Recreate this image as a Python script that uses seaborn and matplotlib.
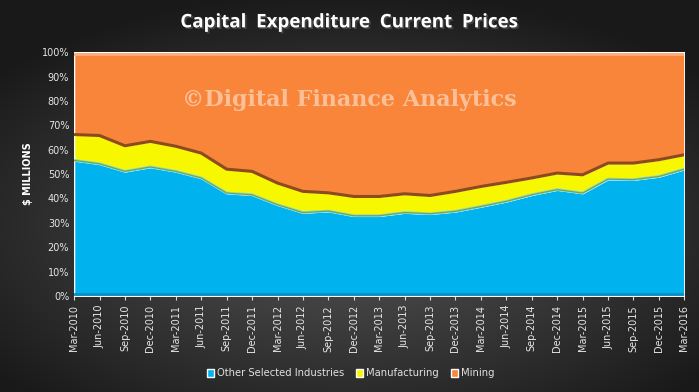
#!/usr/bin/env python3
import numpy as np
import pandas as pd
import matplotlib.pyplot as plt
import matplotlib.patheffects as pe
import seaborn as sns

# quarterly share of capital expenditure (%)
quarters = [
    "Mar-2010", "Jun-2010", "Sep-2010", "Dec-2010", "Mar-2011", "Jun-2011",
    "Sep-2011", "Dec-2011", "Mar-2012", "Jun-2012", "Sep-2012", "Dec-2012",
    "Mar-2013", "Jun-2013", "Sep-2013", "Dec-2013", "Mar-2014", "Jun-2014",
    "Sep-2014", "Dec-2014", "Mar-2015", "Jun-2015", "Sep-2015", "Dec-2015",
    "Mar-2016",
]
other = [55.6, 54.2, 51.1, 52.9, 51.1, 48.4, 42.2, 41.5, 37.4, 34.2, 34.8, 32.9,
         32.9, 34.2, 33.7, 34.7, 36.7, 38.8, 41.5, 43.6, 42.2, 47.9, 47.7, 49.0, 52.0]
manufacturing = [10.6, 11.6, 10.5, 10.5, 10.3, 10.2, 9.8, 9.6, 8.9, 8.7, 7.5, 7.9,
                 7.9, 7.7, 7.5, 8.2, 8.2, 7.8, 6.9, 6.8, 7.5, 6.6, 6.8, 6.9, 5.9]
mining = [33.8, 34.2, 38.4, 36.6, 38.6, 41.4, 48.0, 48.9, 53.7, 57.1, 57.7, 59.2,
          59.2, 58.1, 58.8, 57.1, 55.1, 53.4, 51.6, 49.6, 50.3, 45.5, 45.5, 44.1, 42.1]
series_names = ["Other Selected Industries", "Manufacturing", "Mining"]

colors = {"Other Selected Industries": "#00B3EF",
          "Manufacturing": "#F7F700",
          "Mining": "#F8853A"}

df = pd.DataFrame({"quarter": quarters, "x": range(len(quarters)),
                   "Other Selected Industries": other,
                   "Manufacturing": manufacturing, "Mining": mining})
df["blue_top"] = df["Other Selected Industries"]
df["yellow_top"] = df["blue_top"] + df["Manufacturing"]

sns.set_style("dark")
plt.rcParams["font.family"] = ["DejaVu Sans"]

fig = plt.figure(figsize=(6.99, 3.92), dpi=100)

# dark radial background
bg = fig.add_axes([0, 0, 1, 1], zorder=-5)
gx, gy = np.meshgrid(np.linspace(-1, 1, 400), np.linspace(-1, 1, 240))
r = np.sqrt((gx / 1.1) ** 2 + ((gy + 0.15) / 1.0) ** 2)
shade = np.clip(0.34 - 0.2 * r, 0.1, 0.34)
bg.imshow(np.dstack([shade] * 3), extent=[0, 1, 0, 1], aspect="auto", origin="lower")
bg.axis("off")

ax = fig.add_axes([0.106, 0.245, 0.873, 0.622])
ax.set_facecolor("none")

ax.stackplot(df["x"], df["Other Selected Industries"], df["Manufacturing"], df["Mining"],
             colors=[colors[n] for n in series_names], labels=series_names, zorder=2)

# bevel-like boundary lines
sns.lineplot(data=df, x="x", y="yellow_top", color="#8C4A1E", linewidth=2.2, ax=ax,
             zorder=3, legend=False)
sns.lineplot(data=df, x="x", y="blue_top", color="#63E0FF", linewidth=2.0, ax=ax,
             zorder=3, legend=False)
sns.lineplot(data=df, x="x", y="blue_top", color="#9A9A10", linewidth=0.8, ax=ax,
             zorder=4, legend=False)
ax.axhline(99.2, color="#FBB07C", linewidth=2, zorder=3)
ax.axhline(0.6, color="#0A8FC4", linewidth=2, zorder=3)

ax.set_xlim(0, len(quarters) - 1)
ax.set_ylim(0, 100)
ax.set_yticks(range(0, 101, 10))
ax.set_yticklabels([f"{v}%" for v in range(0, 101, 10)])
ax.set_xticks(df["x"])
ax.set_xticklabels(quarters, rotation=90)
ax.tick_params(axis="x", colors="#D9D9D9", labelsize=7, length=3, direction="out",
               bottom=True, width=0.8)
ax.tick_params(axis="y", colors="#D9D9D9", labelsize=7, length=0)
for lab in ax.get_xticklabels() + ax.get_yticklabels():
    lab.set_color("#E6E6E6")
ax.grid(False)
for s in ax.spines.values():
    s.set_visible(False)
ax.set_xlabel("")
ax.set_ylabel("$ MILLIONS", color="white", fontsize=7, fontweight="bold", labelpad=6)

fig.text(0.5, 0.745, "\u00a9Digital Finance Analytics",
         ha="center", va="center", fontsize=16, fontweight="bold",
         family=["DejaVu Serif"], color="#FCCBA8", alpha=0.85, zorder=5)

fig.text(0.5, 0.943, "Capital  Expenditure  Current  Prices", ha="center", va="center",
         fontsize=13.5, fontweight="bold", color="white", family=["Open Sans"],
         path_effects=[pe.withSimplePatchShadow(offset=(1.2, -1.2), alpha=0.8)])

handles, labels = ax.get_legend_handles_labels()
handles = [h for h, l in zip(handles, labels) if l in series_names]
labels = [l for l in labels if l in series_names]
leg = fig.legend(handles, labels, loc="center", bbox_to_anchor=(0.502, 0.048), ncol=3,
                 frameon=False, fontsize=7.2, handlelength=0.7, handleheight=0.8,
                 handletextpad=0.3, columnspacing=1.2)
for t in leg.get_texts():
    t.set_color("#E0E0E0")

fig.savefig("out.png", dpi=100)
